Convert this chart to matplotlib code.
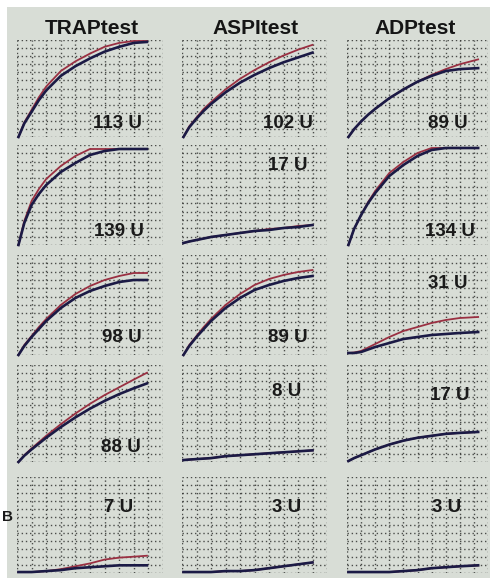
import numpy as np
import matplotlib
matplotlib.use('Agg')
import matplotlib.pyplot as plt
import matplotlib.patches as patches

plt.rcParams['font.family'] = ['Liberation Sans', 'DejaVu Sans']

# figure size in pixels
W, H = 490, 581

tests = ['TRAPtest', 'ASPItest', 'ADPtest']

# aggregation units per panel, rows top to bottom, columns TRAP / ASPI / ADP
units = [['113 U', '102 U', '89 U'],
         ['139 U', '17 U', '134 U'],
         ['98 U', '89 U', '31 U'],
         ['88 U', '8 U', '17 U'],
         ['7 U', '3 U', '3 U']]

# time axis (grid units 0-10) for each column
x_trap = [0.1, 0.5, 1.0, 1.5, 2.0, 3.0, 4.0, 5.0, 6.0, 7.0, 8.0, 8.9]
x_aspi = [0.1, 0.5, 1.0, 1.5, 2.0, 3.0, 4.0, 5.0, 6.0, 7.0, 8.0, 9.0]
x_adp = [0.1, 0.5, 1.0, 1.5, 2.0, 3.0, 4.0, 5.0, 6.0, 7.0, 8.0, 9.3]
x_cols = [x_trap, x_aspi, x_adp]

# aggregation curves (grid units 0-10)
blue = [[[0, 1.4, 2.6, 3.8, 4.8, 6.3, 7.3, 8.1, 8.8, 9.3, 9.7, 9.8],
         [0, 1.0, 1.9, 2.7, 3.4, 4.6, 5.6, 6.4, 7.1, 7.7, 8.2, 8.7],
         [0, 0.8, 1.6, 2.3, 2.9, 4.0, 4.9, 5.7, 6.3, 6.8, 7.0, 7.1]],
        [[0, 2.2, 4.0, 5.1, 6.0, 7.3, 8.2, 9.0, 9.4, 9.6, 9.6, 9.6],
         [0.2, 0.35, 0.5, 0.65, 0.8, 1.0, 1.2, 1.4, 1.5, 1.7, 1.8, 2.0],
         [0, 1.6, 3.0, 4.2, 5.2, 6.9, 8.0, 8.9, 9.5, 9.7, 9.7, 9.7]],
        [[0, 0.9, 1.8, 2.6, 3.4, 4.7, 5.7, 6.4, 6.9, 7.3, 7.5, 7.5],
         [0, 0.9, 1.8, 2.6, 3.4, 4.7, 5.7, 6.5, 7.0, 7.4, 7.7, 7.9],
         [0.2, 0.2, 0.3, 0.55, 0.8, 1.2, 1.6, 1.8, 2.0, 2.1, 2.2, 2.3]],
        [[0, 0.65, 1.3, 1.9, 2.5, 3.6, 4.6, 5.5, 6.3, 7.0, 7.6, 8.1],
         [0.2, 0.25, 0.3, 0.35, 0.4, 0.6, 0.7, 0.8, 0.9, 1.0, 1.1, 1.2],
         [0.1, 0.4, 0.7, 1.0, 1.3, 1.8, 2.2, 2.5, 2.7, 2.9, 3.0, 3.1]],
        [[0.1, 0.1, 0.1, 0.15, 0.2, 0.3, 0.5, 0.6, 0.7, 0.8, 0.8, 0.8],
         [0.1, 0.1, 0.1, 0.1, 0.1, 0.2, 0.2, 0.3, 0.5, 0.7, 0.9, 1.1],
         [0.1, 0.1, 0.1, 0.1, 0.1, 0.1, 0.2, 0.3, 0.5, 0.6, 0.7, 0.8]]]

red = [[[0, 1.5, 2.8, 4.1, 5.2, 6.8, 7.8, 8.6, 9.3, 9.7, 9.9, 9.9],
        [0, 1.1, 2.0, 2.9, 3.6, 4.9, 6.0, 6.9, 7.7, 8.4, 9.0, 9.5],
        [0, 0.8, 1.6, 2.3, 2.9, 4.0, 4.9, 5.7, 6.4, 7.0, 7.5, 8.0]],
       [[0, 2.4, 4.4, 5.6, 6.6, 7.9, 8.9, 9.6, 9.6, 9.6, 9.6, 9.6],
        [0.2, 0.35, 0.5, 0.65, 0.8, 1.0, 1.2, 1.4, 1.6, 1.7, 1.9, 2.0],
        [0, 1.6, 3.0, 4.3, 5.4, 7.2, 8.3, 9.2, 9.7, 9.7, 9.7, 9.7]],
       [[0, 1.0, 1.9, 2.8, 3.6, 5.0, 6.1, 6.9, 7.5, 7.9, 8.2, 8.2],
        [0, 1.0, 1.9, 2.8, 3.6, 5.0, 6.1, 7.0, 7.6, 8.0, 8.3, 8.5],
        [0.2, 0.25, 0.4, 0.75, 1.1, 1.8, 2.4, 2.8, 3.2, 3.5, 3.7, 3.8]],
       [[0, 0.7, 1.4, 2.05, 2.7, 3.9, 5.0, 6.0, 6.9, 7.7, 8.5, 9.2],
        [0.2, 0.25, 0.3, 0.35, 0.4, 0.6, 0.7, 0.8, 0.9, 1.0, 1.1, 1.2],
        [0.1, 0.4, 0.7, 1.0, 1.3, 1.8, 2.2, 2.5, 2.7, 2.9, 3.0, 3.1]],
       [[0.1, 0.1, 0.1, 0.15, 0.2, 0.4, 0.7, 1.0, 1.4, 1.6, 1.7, 1.8],
        [0.1, 0.1, 0.1, 0.1, 0.1, 0.2, 0.2, 0.3, 0.5, 0.7, 0.9, 1.1],
        [0.1, 0.1, 0.1, 0.1, 0.1, 0.1, 0.2, 0.3, 0.5, 0.6, 0.7, 0.8]]]

# layout in pixels
col_px = [(17, 163), (182, 327), (347, 488)]
row_px = [(40, 137), (145, 245), (255, 355), (365, 462), (477, 573)]
title_x = [92, 256, 415]
title_y = 28
# label centres (pixels)
label_px = [[(117, 124), (288, 124), (448, 124)],
            [(119, 231), (288, 166), (450, 232)],
            [(122, 337), (288, 337), (448, 283)],
            [(121, 447), (287, 392), (450, 395)],
            [(119, 507), (287, 507), (447, 507)]]

bg = '#d8ddd6'
grid_col = '#262826'
blue_col = '#1b1a45'
red_col = '#9a3042'

fig = plt.figure(figsize=(W / 100, H / 100), dpi=100, facecolor='white')
fig.patches.append(patches.Rectangle((7 / W, 3 / H), 1, 1 - 10 / H, transform=fig.transFigure,
                                     facecolor=bg, edgecolor='none', zorder=-5))

for j, name in enumerate(tests):
    fig.text(title_x[j] / W, 1 - title_y / H, name, ha='center', va='center',
             fontsize=15, fontweight='bold', color='#151515')

for i in range(5):
    for j in range(3):
        l, r = col_px[j]
        t, b = row_px[i]
        ax = fig.add_axes([l / W, 1 - b / H, (r - l) / W, (b - t) / H])
        ax.set_facecolor('none')
        ax.set_xlim(0, 10)
        ax.set_ylim(0, 10)
        for v in np.arange(0, 10.01, 1.0):
            ax.axvline(v, color=grid_col, lw=1.0, ls=(0, (1, 2.0)), alpha=0.8, zorder=1)
        for h in np.arange(0, 10.01, 10 / 12):
            ax.axhline(h, color=grid_col, lw=1.0, ls=(0, (1, 2.0)), alpha=0.8, zorder=1)
        ax.plot(x_cols[j], red[i][j], color=red_col, lw=1.3, zorder=3,
                solid_joinstyle='round', clip_on=False)
        ax.plot(x_cols[j], blue[i][j], color=blue_col, lw=1.9, zorder=4,
                solid_joinstyle='round', clip_on=False)
        for s in ax.spines.values():
            s.set_visible(False)
        ax.set_xticks([])
        ax.set_yticks([])
        lx, ly = label_px[i][j]
        fig.text(lx / W, 1 - ly / H, units[i][j], ha='center', va='center',
                 fontsize=13.5, fontweight='bold', color='#1a1a1a', zorder=5)

# partial letter at the left edge of the photo
fig.text(7 / W, 1 - 517 / H, 'B', ha='center', va='center', fontsize=11,
         fontweight='bold', color='#1a1a1a')

fig.savefig('out.png', dpi=100, facecolor='white')
